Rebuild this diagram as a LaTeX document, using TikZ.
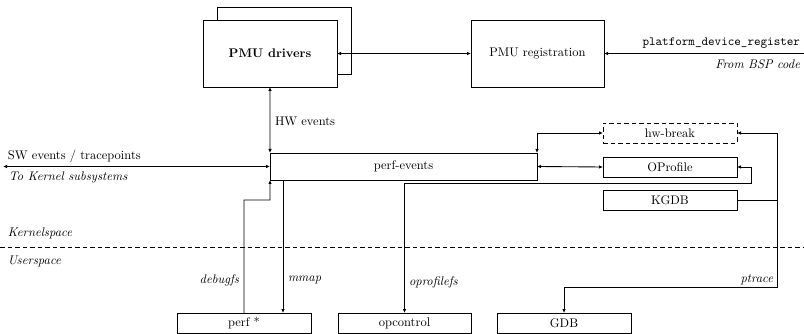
\documentclass[tikz,border=0pt]{standalone}
\usetikzlibrary{arrows.meta,calc}
\begin{document}
\begin{tikzpicture}[x=0.8pt,y=-0.8pt,
  line width=0.7pt,
  >={Latex[length=3.2pt,width=2.8pt]},
  dsh/.style={dash pattern=on 3.6pt off 2.4pt},
  box/.style={draw,rectangle,inner sep=0pt,outer sep=0pt,fill=white},
  bigbox/.style={box,minimum width=107.2pt,minimum height=53.6pt},
  smallbox/.style={box,minimum width=107.2pt,minimum height=16pt},
  lbl/.style={inner sep=0pt,outer sep=0pt},
  ilbl/.style={lbl,font=\itshape}]
\useasboundingbox (0,0) rectangle (804,334);
% PMU drivers (stacked)
\node[bigbox] (pmuback) at (284,40.5) {};
\node[bigbox,font=\bfseries] (pmu) at (270,53.5) {PMU drivers};
\node[bigbox,minimum width=106.4pt] (pmureg) at (537.5,53.5) {PMU registration};
\draw[<->] (pmu.east) -- (pmureg.west);
\coordinate (bsp) at (804,53.5);
\draw[->] (bsp) -- (pmureg.east);
\node[lbl,anchor=east] (pdr) at (800,43) {\texttt{platform\_device\_register}};
\node[ilbl,anchor=east] (bspc) at (800,64) {From BSP code};
% perf-events
\node[box,minimum width=213.6pt,minimum height=21.6pt] (perf) at (403.5,166.5) {perf-events};
\draw[<->] (pmu.south) -- (perf.north west);
\node[lbl,anchor=west] (hw) at (275,121) {HW events};
\coordinate (sw) at (3,166.5);
\draw[<->] (sw) -- (perf.west);
\node[lbl,anchor=west] (swl) at (8,156) {SW events / tracepoints};
\node[ilbl,anchor=west] (tks) at (9,177) {To Kernel subsystems};
% right boxes
\node[smallbox,dsh] (hwb) at (670,133) {hw-break};
\node[smallbox] (opr) at (670,167) {OProfile};
\node[smallbox] (kgdb) at (670,200) {KGDB};
\draw[<->] (perf.north east) |- (hwb.west);
\draw[<->] (perf.east) -- (opr.west);
% bottom boxes
\node[smallbox] (perfs) at (244,323) {perf *};
\node[smallbox,minimum width=106.4pt] (opc) at (404.5,323) {opcontrol};
\node[smallbox] (gdb) at (564,323) {GDB};
% oprofilefs
\coordinate (c1) at (751,183);
\draw[<->] (opr.east) -| (c1) -| (opc.north);
\node[ilbl,anchor=west] (opfs) at (409,282) {oprofilefs};
% KGDB / ptrace
\coordinate (j) at (777,200);
\coordinate (c3) at (777,287);
\draw[->] (kgdb.east) -- (j) |- (hwb.east);
\draw[->] (j) -- (c3) -| (gdb.north);
\node[ilbl,anchor=east] (ptr) at (773,280) {ptrace};
% debugfs / mmap
\coordinate (c4) at (270,200);
\draw[->] (perfs.north) |- (c4) -- (perf.south west);
\coordinate (m) at (283,180);
\draw[->] (m) -- (m |- perfs.north);
\node[ilbl,anchor=east] (dbg) at (239,280) {debugfs};
\node[ilbl,anchor=west] (mm) at (288,280) {mmap};
% kernel/user separator
\coordinate (s1) at (0,247);
\coordinate (s2) at (804,247);
\draw[dsh] (s1) -- (s2);
\node[ilbl,anchor=west] (ks) at (8,233) {Kernelspace};
\node[ilbl,anchor=west] (us) at (8,261) {Userspace};
\end{tikzpicture}
\end{document}
